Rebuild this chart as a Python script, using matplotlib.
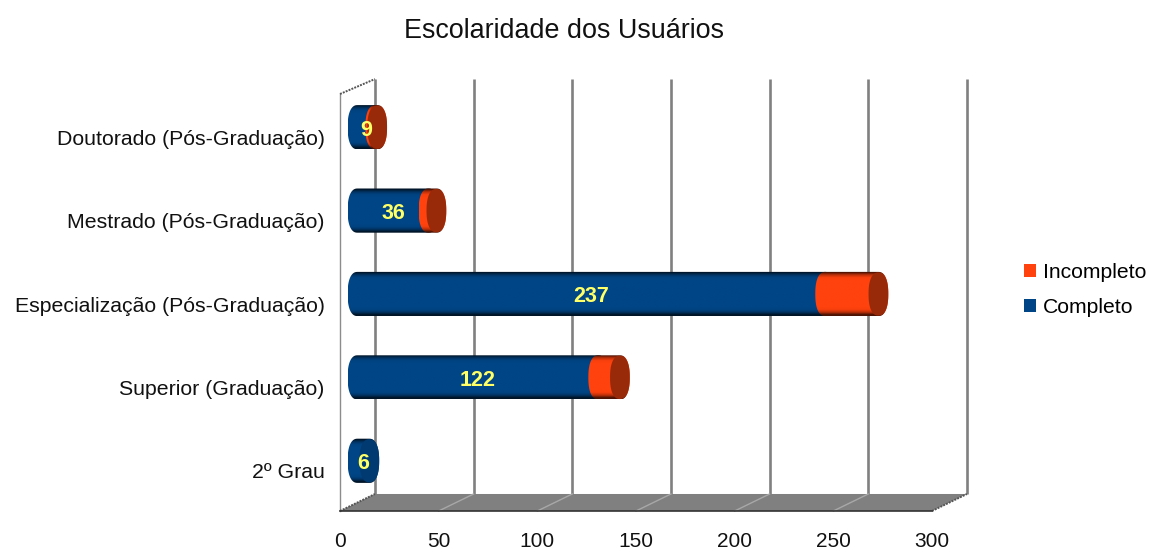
import numpy as np
import matplotlib
matplotlib.use("Agg")
import matplotlib.pyplot as plt
from matplotlib.patches import Patch, Polygon

plt.rcParams['font.family'] = ['Liberation Sans', 'DejaVu Sans']

# data, bottom to top
categories = ["2º Grau", "Superior (Graduação)", "Especialização (Pós-Graduação)",
              "Mestrado (Pós-Graduação)", "Doutorado (Pós-Graduação)"]
completo = [6, 122, 237, 36, 9]
incompleto = [0, 11, 27, 4, 1]
x_ticks = [0, 50, 100, 150, 200, 250, 300]

BLUE = "#004586"
ORANGE = "#ff420e"
GREY = "#808080"

# 3d depth of the box, in data units
DEPTH_X = 17.7
DEPTH_Y = 0.204
BAR_H = 0.53
CAP_W = 5.0

W, H = 1150, 549
fig = plt.figure(figsize=(W / 100, H / 100), dpi=100)
ax = fig.add_axes([340 / W, 1 - 511 / H, 592 / W, 417 / H])
ax.set_xlim(0, 300)
ax.set_ylim(0, 5)
for s in ax.spines.values():
    s.set_visible(False)


def half_round(t):
    # a bit squarer than an ellipse, like the rendered cylinder ends
    c, s = np.cos(t), np.sin(t)
    return np.sign(c) * np.abs(c) ** 0.85, np.sign(s) * np.abs(s) ** 0.85


def bar_shape(x0, x1, yc):
    t = np.linspace(np.pi / 2, 3 * np.pi / 2, 40)
    c, s = half_round(t)
    left = np.column_stack([x0 + CAP_W * c, yc + BAR_H / 2 * s])
    right = np.column_stack([x1 - CAP_W * c, yc - BAR_H / 2 * s])
    return np.vstack([left, right])


def draw_segment(x0, x1, yc, color, z):
    shade = np.array([0.3, 0.75, 0.97, 1, 1, 1, 1, 1, 1, 1, 1, 1, 1, 1, 0.97, 0.75, 0.3]).reshape(-1, 1)
    rgb = np.array(matplotlib.colors.to_rgb(color))
    img = shade[:, :, None] * rgb[None, None, :]
    im = ax.imshow(img, extent=[x0 - CAP_W, x1 + CAP_W, yc - BAR_H / 2, yc + BAR_H / 2],
                   aspect="auto", interpolation="bilinear", zorder=z)
    im.set_clip_path(Polygon(bar_shape(x0, x1, yc), closed=True, transform=ax.transData))


# floor
ax.add_patch(Polygon([(0, 0), (300, 0), (300 + DEPTH_X, DEPTH_Y), (DEPTH_X, DEPTH_Y)],
                     closed=True, facecolor=GREY, edgecolor="none", zorder=1, clip_on=False))
for v in x_ticks:
    # back wall gridline
    ax.plot([v + DEPTH_X, v + DEPTH_X], [DEPTH_Y, 5 + DEPTH_Y - 0.025], color=GREY, lw=1.9,
            zorder=1.5, clip_on=False, solid_capstyle="butt")
    if 0 < v < 300:
        ax.plot([v, v + DEPTH_X], [0, DEPTH_Y], color="#a8a8a8", lw=1.0, zorder=1.6, clip_on=False)

# left wall and box edges
ax.plot([0, 0], [0, 5], color="#8c8c8c", lw=1.0, zorder=2, clip_on=False)
ax.plot([0, DEPTH_X], [5, 5 + DEPTH_Y - 0.025], color="#555555", lw=1.4, ls=(0, (1, 0.6)),
        zorder=2, clip_on=False)
ax.plot([0, DEPTH_X], [0, DEPTH_Y], color="#555555", lw=1.4, ls=(0, (1, 0.6)), zorder=2, clip_on=False)
ax.plot([300, 300 + DEPTH_X], [0, DEPTH_Y], color="#555555", lw=1.4, ls=(0, (1, 0.6)),
        zorder=2, clip_on=False)
ax.plot([0, 300], [0, 0], color="#333333", lw=1.2, zorder=2, clip_on=False)

# bars
for i, (c, inc) in enumerate(zip(completo, incompleto)):
    yc = i + 0.5 + DEPTH_Y / 2
    start = DEPTH_X / 2
    end = start + c
    total = end + inc
    draw_segment(start, end, yc, BLUE, 3)
    if inc > 0:
        draw_segment(end, total, yc, ORANGE, 3.2)
        cap = "#982a0a"
    else:
        cap = "#003a70"
    t = np.linspace(0, 2 * np.pi, 80)
    cx, cy = half_round(t)
    ax.add_patch(Polygon(np.column_stack([total + CAP_W * cx, yc + BAR_H * 0.49 * cy]), closed=True,
                         facecolor=cap, edgecolor="none", zorder=3.5))
    ax.text(start + c / 2, yc - 0.035, str(c), color="#ffff66", fontsize=15.5, fontweight="bold",
            ha="center", va="center", zorder=5)

ax.set_xlim(0, 300)
ax.set_ylim(0, 5)

ax.set_xticks(x_ticks)
ax.set_xticklabels([str(v) for v in x_ticks], fontsize=15, color="#111111")
# the category labels sit on the front plane, lower than the bars
ax.set_yticks([i + 0.48 for i in range(len(categories))])
ax.set_yticklabels(categories, fontsize=15.3, color="#111111")
ax.tick_params(axis="x", length=0, pad=15)
ax.tick_params(axis="y", length=0, pad=11)

fig.text(564 / W, 1 - 31.5 / H, "Escolaridade dos Usuários", fontsize=19.4, ha="center",
         va="center", color="#111111")

handles = [Patch(facecolor=ORANGE, label="Incompleto"), Patch(facecolor=BLUE, label="Completo")]
fig.legend(handles=handles, loc="center left", bbox_to_anchor=(1024 / W, 1 - 290 / H),
           frameon=False, fontsize=15.2, handlelength=0.58, handleheight=0.58,
           handletextpad=0.32, labelspacing=0.74, borderpad=0, borderaxespad=0)

fig.savefig("out.png", dpi=100)
